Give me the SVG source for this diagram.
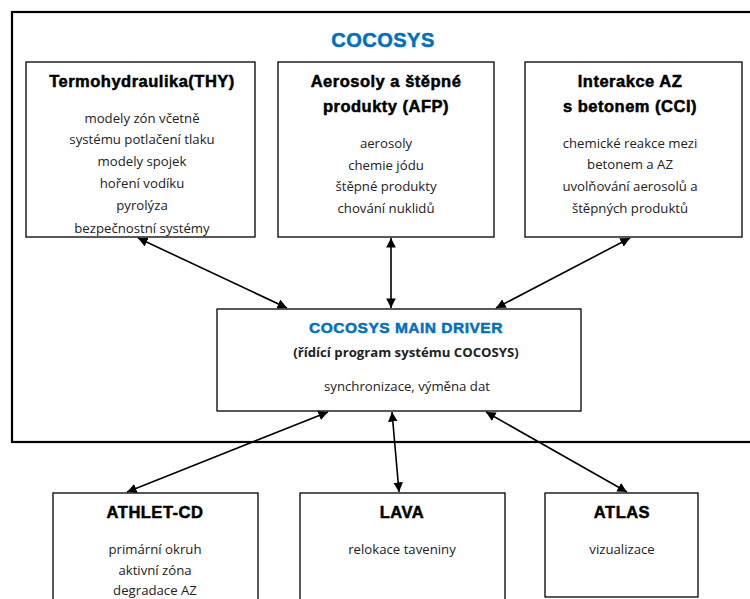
<svg xmlns="http://www.w3.org/2000/svg" width="750" height="599" viewBox="0 0 750 599">
<style>
.box{fill:#fff;stroke:#000;stroke-width:1.3}
.frame{fill:none;stroke:#000;stroke-width:2.2}
.t{font-family:"Liberation Sans",Arial,sans-serif;font-weight:bold;font-size:16.5px;letter-spacing:0.5px;fill:#000;stroke:#000;stroke-width:0.5;text-anchor:middle}
.b{font-family:"Open Sans","Noto Sans",sans-serif;font-size:13.2px;fill:#222;text-anchor:middle}
.blue{fill:#0070C0;stroke:#0070C0}
.c{stroke:#000;stroke-width:1.6;fill:none;marker-start:url(#ah);marker-end:url(#ah)}
</style>
<defs>
<marker id="ah" viewBox="0 0 10 10" refX="10" refY="5" markerWidth="6" markerHeight="6" orient="auto-start-reverse" markerUnits="strokeWidth">
<path d="M0,0 L10,5 L0,10 z" fill="#000"/>
</marker>
<clipPath id="clipTHY"><rect x="26" y="62" width="229" height="175"/></clipPath>
</defs>
<rect width="750" height="599" fill="#fff"/>
<rect class="frame" x="12" y="12" width="745" height="430"/>
<text class="t blue" x="383" y="47" style="font-size:20px">COCOSYS</text>

<g id="thy">
<rect class="box" x="26" y="62" width="229" height="175"/>
<text class="t" x="142" y="87">Termohydraulika(THY)</text>
<g clip-path="url(#clipTHY)">
<text class="b" x="142" y="123">modely zón včetně</text>
<text class="b" x="142" y="144">systému potlačení tlaku</text>
<text class="b" x="142" y="166">modely spojek</text>
<text class="b" x="142" y="188">hoření vodíku</text>
<text class="b" x="142" y="210">pyrolýza</text>
<text class="b" x="142" y="233">bezpečnostní systémy</text>
</g>
</g>

<g id="afp">
<rect class="box" x="278" y="62" width="216" height="175"/>
<text class="t" x="386" y="87">Aerosoly a štěpné</text>
<text class="t" x="386" y="112">produkty (AFP)</text>
<text class="b" x="386" y="148">aerosoly</text>
<text class="b" x="386" y="170">chemie jódu</text>
<text class="b" x="386" y="191">štěpné produkty</text>
<text class="b" x="386" y="213">chování nuklidů</text>
</g>

<g id="cci">
<rect class="box" x="525" y="62" width="217" height="175"/>
<text class="t" x="630" y="87">Interakce AZ</text>
<text class="t" x="630" y="112">s betonem (CCI)</text>
<text class="b" x="630" y="148">chemické reakce mezi</text>
<text class="b" x="630" y="169">betonem a AZ</text>
<text class="b" x="630" y="191">uvolňování aerosolů a</text>
<text class="b" x="630" y="213">štěpných produktů</text>
</g>

<g id="main">
<rect class="box" x="217" y="309" width="364" height="102"/>
<text class="t blue" x="406" y="333" style="font-size:15.5px">COCOSYS MAIN DRIVER</text>
<text class="b" x="406" y="357" style="font-weight:bold">(řídící program systému COCOSYS)</text>
<text class="b" x="407" y="391">synchronizace, výměna dat</text>
</g>

<g id="athlet">
<rect class="box" x="53" y="493" width="205" height="120"/>
<text class="t" x="155" y="518">ATHLET-CD</text>
<text class="b" x="155" y="554">primární okruh</text>
<text class="b" x="155" y="575">aktivní zóna</text>
<text class="b" x="155" y="595">degradace AZ</text>
</g>

<g id="lava">
<rect class="box" x="300" y="493" width="205" height="120"/>
<text class="t" x="402" y="518">LAVA</text>
<text class="b" x="402" y="554">relokace taveniny</text>
</g>

<g id="atlas">
<rect class="box" x="545" y="493" width="153" height="104"/>
<text class="t" x="622" y="518">ATLAS</text>
<text class="b" x="622" y="554">vizualizace</text>
</g>

<g id="connectors">
<line class="c" x1="138" y1="238" x2="287" y2="308"/>
<line class="c" x1="391" y1="238" x2="391" y2="308"/>
<line class="c" x1="630" y1="238" x2="496" y2="308"/>
<line class="c" x1="328" y1="412" x2="127" y2="492"/>
<line class="c" x1="392" y1="412" x2="399" y2="492"/>
<line class="c" x1="486" y1="412" x2="627" y2="492"/>
</g>
</svg>
